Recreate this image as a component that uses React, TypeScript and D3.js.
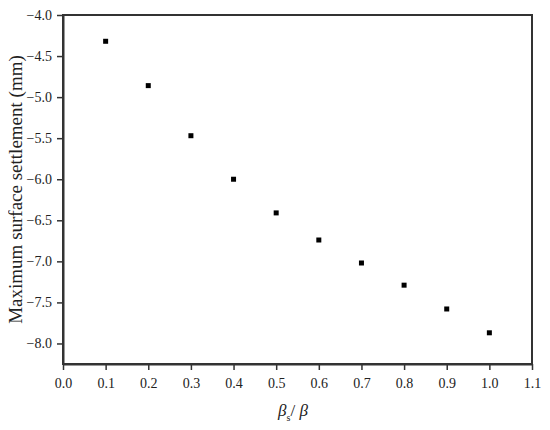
import { useRef, useEffect } from 'react';
import * as d3 from 'd3';

const W = 550;
const H = 430;
const MARGIN = { top: 15, right: 18, bottom: 66, left: 63 };

const ratios = [0.1, 0.2, 0.3, 0.4, 0.5, 0.6, 0.7, 0.8, 0.9, 1.0];
const settlement = [-4.32, -4.86, -5.47, -6.0, -6.41, -6.74, -7.02, -7.29, -7.58, -7.87];
const xTicks = [0, 0.1, 0.2, 0.3, 0.4, 0.5, 0.6, 0.7, 0.8, 0.9, 1.0, 1.1];
const yTicks = [-4.0, -4.5, -5.0, -5.5, -6.0, -6.5, -7.0, -7.5, -8.0];

const FONT = '"Liberation Serif", "Times New Roman", serif';
const AXIS = '#333';

export default function App() {
  const svgRef = useRef<SVGSVGElement>(null);

  useEffect(() => {
    if (!svgRef.current) return;
    const svg = d3.select(svgRef.current);
    svg.selectAll('*').remove();

    const innerW = W - MARGIN.left - MARGIN.right;
    const innerH = H - MARGIN.top - MARGIN.bottom;

    const x = d3.scaleLinear().domain([0, 1.1]).range([0, innerW]);
    const y = d3.scaleLinear().domain([-8.25, -4.0]).range([innerH, 0]);

    const g = svg.append('g').attr('transform', `translate(${MARGIN.left},${MARGIN.top})`);

    // frame (top + right, no ticks)
    g.append('rect')
      .attr('x', 0).attr('y', 0).attr('width', innerW).attr('height', innerH)
      .attr('fill', 'none').attr('stroke', AXIS).attr('stroke-width', 2);

    const xAxis = g.append('g')
      .attr('transform', `translate(0,${innerH})`)
      .call(d3.axisBottom(x).tickValues(xTicks).tickFormat(d3.format('.1f')).tickSize(6).tickSizeOuter(0).tickPadding(8));
    xAxis.selectAll('text').attr('fill', '#222').style('font-size', '14px').style('font-family', FONT);

    const yAxis = g.append('g')
      .call(d3.axisLeft(y).tickValues(yTicks).tickFormat(d3.format('.1f')).tickSize(6).tickSizeOuter(0).tickPadding(5));
    yAxis.selectAll('text').attr('fill', '#222').style('font-size', '14px').style('font-family', FONT);

    g.selectAll('.domain').attr('stroke', AXIS).attr('stroke-width', 2);
    g.selectAll('.tick line').attr('stroke', AXIS).attr('stroke-width', 1.5);

    // markers
    const S = 5;
    g.selectAll('rect.pt')
      .data(ratios.map((r, i) => [r, settlement[i]]))
      .join('rect')
      .attr('class', 'pt')
      .attr('x', d => x(d[0]) - S / 2)
      .attr('y', d => y(d[1]) - S / 2)
      .attr('width', S).attr('height', S)
      .attr('fill', '#000');

    // y title, centred on the plot height
    svg.append('text')
      .attr('transform', `translate(22,${MARGIN.top + innerH / 2}) rotate(-90)`)
      .attr('text-anchor', 'middle')
      .attr('fill', '#222')
      .style('font-size', '19px').style('font-family', FONT)
      .text('Maximum surface settlement (mm)');

    // x title: β_s / β
    const xt = svg.append('text')
      .attr('x', 293)
      .attr('y', 416)
      .attr('text-anchor', 'middle')
      .attr('fill', '#222')
      .style('font-size', '17px').style('font-family', FONT);
    xt.append('tspan').style('font-style', 'italic').text('β');
    xt.append('tspan').attr('dy', 5).style('font-size', '10px').text('s');
    xt.append('tspan').attr('dy', -5).text('/ ');
    xt.append('tspan').style('font-style', 'italic').text('β');
  }, []);

  return <svg ref={svgRef} width={W} height={H} style={{ display: 'block', margin: -8 }} />;
}
